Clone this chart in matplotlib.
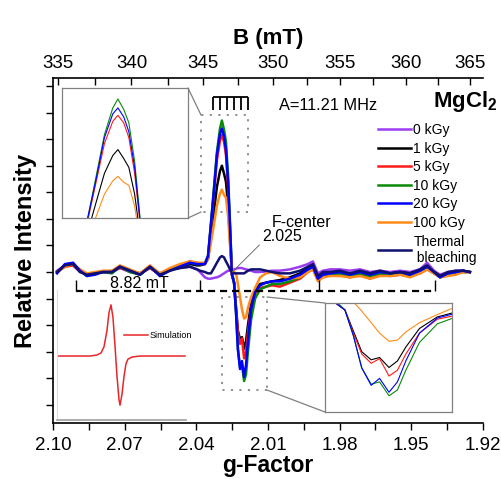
import numpy as np
import matplotlib
matplotlib.use("Agg")
import matplotlib.pyplot as plt
from matplotlib.patches import Rectangle, ConnectionPatch

plt.rcParams["font.family"] = ["Liberation Sans", "DejaVu Sans"]
plt.rcParams["mathtext.fontset"] = "custom"
plt.rcParams["mathtext.rm"] = "Liberation Sans"
plt.rcParams["mathtext.bf"] = "Liberation Sans:bold"

# ---- spectra (g-factor vs relative intensity) ----
g_factor = [
    2.0983, 2.0950, 2.0916, 2.0887, 2.0858, 2.0824, 2.0791, 2.0753, 2.0720, 2.0678,
    2.0636, 2.0594, 2.0553, 2.0511, 2.0469, 2.0427, 2.0397, 2.0385,
    2.0364, 2.0351, 2.0339, 2.0326, 2.0314, 2.0301, 2.0293, 2.0284, 2.0276, 2.0267,
    2.0259, 2.0251, 2.0242, 2.0234, 2.0226, 2.0217, 2.0209, 2.0200, 2.0192, 2.0184,
    2.0171, 2.0154, 2.0133, 2.0108, 2.0083,
    2.0050, 2.0008, 1.9966, 1.9933, 1.9912, 1.9891, 1.9870, 1.9840, 1.9799, 1.9757,
    1.9715, 1.9673, 1.9631, 1.9589, 1.9547, 1.9506, 1.9464, 1.9434, 1.9405, 1.9380,
    1.9347, 1.9313, 1.9284, 1.9255,
]

i_0kgy = [
    0.05, 0.25, 0.25, 0.00, -0.05, -0.05, 0.00, 0.05, 0.15, 0.00,
    -0.05, 0.15, -0.05, 0.10, 0.15, 0.20, 0.10, 0.00,
    -0.20, -0.25, -0.25, -0.22, -0.20, -0.15, -0.10, -0.05, 0.00, 0.05,
    0.05, 0.05, 0.10, 0.12, 0.15, 0.15, 0.15, 0.12, 0.10, 0.08,
    0.05, 0.00, 0.00, 0.02, 0.05,
    0.05, 0.10, 0.20, 0.30, 0.40, -0.05, 0.05, 0.10, 0.10, 0.05,
    0.10, 0.00, 0.05, 0.00, 0.05, 0.00, 0.10, 0.35, 0.05, -0.10,
    0.00, 0.05, 0.05, 0.00,
]
i_1kgy = [
    0.00, 0.25, 0.30, 0.05, -0.10, -0.05, 0.00, 0.00, 0.20, 0.05,
    -0.10, 0.20, -0.10, 0.10, 0.20, 0.30, 0.25, 0.25,
    0.30, 0.50, 1.30, 2.30, 3.20, 3.80, 4.00, 3.70, 3.40, 2.50,
    1.20, -0.10, -0.40, -1.30, -2.20, -2.55, -2.45, -2.88, -2.60, -2.00,
    -1.20, -0.70, -0.45, -0.40, -0.35,
    -0.30, -0.20, -0.05, 0.15, 0.25, -0.20, -0.05, 0.00, 0.00, -0.10,
    0.00, -0.05, 0.00, -0.05, 0.00, -0.05, 0.05, 0.20, 0.00, -0.15,
    -0.05, 0.00, 0.05, 0.00,
]
i_5kgy = [
    0.00, 0.20, 0.25, 0.05, -0.10, -0.05, 0.00, 0.00, 0.15, 0.05,
    -0.05, 0.15, -0.10, 0.10, 0.25, 0.40, 0.35, 0.30,
    0.30, 0.60, 1.70, 3.00, 4.20, 4.95, 5.15, 4.90, 4.40, 3.20,
    1.60, -0.10, -0.40, -1.40, -2.30, -2.70, -2.50, -3.25, -3.00, -2.30,
    -1.40, -0.80, -0.60, -0.55, -0.50,
    -0.55, -0.40, -0.25, 0.00, 0.10, -0.30, -0.20, -0.10, -0.10, -0.20,
    -0.10, -0.25, -0.10, -0.15, -0.10, -0.15, -0.05, 0.10, -0.05, -0.15,
    -0.10, -0.05, 0.00, 0.00,
]
i_10kgy = [
    0.00, 0.25, 0.30, 0.05, -0.15, -0.05, 0.00, -0.05, 0.20, 0.00,
    -0.10, 0.20, -0.10, 0.10, 0.20, 0.35, 0.30, 0.30,
    0.35, 0.60, 1.80, 3.20, 4.50, 5.40, 5.70, 5.35, 4.90, 3.60,
    1.80, 0.00, -0.40, -1.50, -2.90, -3.60, -3.50, -4.10, -3.85, -3.00,
    -1.80, -1.00, -0.65, -0.55, -0.45,
    -0.45, -0.35, -0.20, 0.05, 0.15, -0.30, -0.15, -0.10, -0.05, -0.15,
    -0.05, -0.15, -0.05, -0.10, -0.05, -0.15, 0.00, 0.15, -0.05, -0.20,
    -0.10, -0.05, 0.00, 0.00,
]
i_20kgy = [
    -0.05, 0.30, 0.35, 0.05, -0.15, -0.10, 0.00, 0.00, 0.20, 0.05,
    -0.10, 0.20, -0.15, 0.05, 0.20, 0.35, 0.30, 0.30,
    0.30, 0.60, 1.80, 3.10, 4.40, 5.20, 5.40, 5.10, 4.60, 3.40,
    1.70, -0.10, -0.40, -1.50, -2.90, -3.65, -3.35, -3.95, -3.50, -2.60,
    -1.40, -0.75, -0.50, -0.40, -0.35,
    -0.35, -0.25, -0.10, 0.10, 0.20, -0.25, -0.10, -0.05, 0.00, -0.10,
    0.00, -0.10, 0.00, -0.05, 0.00, -0.10, 0.05, 0.20, 0.00, -0.20,
    -0.05, 0.00, 0.05, 0.00,
]
i_100kgy = [
    0.00, 0.20, 0.30, 0.10, -0.05, 0.00, 0.05, 0.05, 0.25, 0.10,
    -0.05, 0.25, -0.05, 0.15, 0.30, 0.40, 0.35, 0.35,
    0.35, 0.50, 1.10, 1.80, 2.50, 2.95, 3.10, 2.90, 2.80, 2.10,
    1.00, 0.15, 0.00, -0.05, -0.45, -0.95, -1.40, -1.75, -1.70, -1.35,
    -0.95, -0.60, -0.20, -0.05, 0.00,
    -0.15, -0.25, -0.20, 0.00, 0.10, -0.35, -0.20, -0.15, -0.15, -0.20,
    -0.15, -0.25, -0.15, -0.15, -0.10, -0.20, -0.05, 0.10, -0.05, -0.20,
    -0.15, -0.10, 0.00, 0.00,
]
i_thermal = [
    0.00, 0.25, 0.30, 0.00, -0.10, -0.05, 0.00, 0.00, 0.20, 0.05,
    -0.10, 0.20, -0.10, 0.05, 0.15, 0.20, 0.10, 0.05,
    0.00, -0.05, -0.05, 0.15, 0.35, 0.55, 0.60, 0.55, 0.40, 0.25,
    0.10, 0.00, -0.05, -0.05, -0.05, -0.05, -0.05, -0.05, 0.00, 0.05,
    0.10, 0.10, 0.10, 0.05, 0.00,
    -0.05, -0.05, 0.05, 0.20, 0.30, -0.15, 0.00, 0.00, 0.05, -0.05,
    0.05, -0.05, 0.05, -0.05, 0.00, -0.05, 0.10, 0.25, 0.00, -0.15,
    0.00, 0.05, 0.05, 0.00,
]

labels = ["0 kGy", "1 kGy", "5 kGy", "10 kGy", "20 kGy", "100 kGy", "Thermal\n bleaching"]
colors = ["#9b3cf0", "#000000", "#ff1a1a", "#0a8a0a", "#0000ff", "#ff8c1a", "#101070"]
spectra = [i_0kgy, i_1kgy, i_5kgy, i_10kgy, i_20kgy, i_100kgy, i_thermal]

# simulated F-centre line (arbitrary field units / intensity)
sim_field = [0, 33, 40, 44, 47, 50, 52, 54, 56, 58, 60, 62, 63, 65, 67, 69, 71, 75, 83, 128]
sim_signal = [0, 0, 0.02, 0.06, 0.18, 0.5, 0.85, 1.0, 0.75, 0.2, -0.4, -0.85, -0.96,
              -0.75, -0.4, -0.15, -0.06, -0.02, 0, 0]

g_ticks = [2.10, 2.07, 2.04, 2.01, 1.98, 1.95, 1.92]
b_ticks = [335, 340, 345, 350, 355, 360, 365]
hfs_comb_g = [2.0330, 2.0301, 2.0272, 2.0242, 2.0213, 2.0184]   # hyperfine stick pattern
span_B = [336.2, 344.8, 353.4, 362.3]                          # 8.82 mT marker ticks
f_center_g = 2.025

FREQ_GHZ = 9.837
C_MT = 71.4477 * FREQ_GHZ   # B[mT] = h*nu / (muB * g)


def g_to_B(g):
    g = np.asarray(g, dtype=float)
    with np.errstate(divide="ignore"):
        return C_MT / g


W, H = 502, 479


def px_box(x0, y0, x1, y1):
    return [x0 / W, 1 - y1 / H, (x1 - x0) / W, (y1 - y0) / H]


fig = plt.figure(figsize=(W / 100, H / 100), dpi=100)
ax = fig.add_axes(px_box(53, 78, 483, 423))

order = [0, 1, 2, 3, 5, 4, 6]
for k in order:
    ax.plot(g_factor, spectra[k], color=colors[k], lw=1.8, label=labels[k],
            solid_joinstyle="round")

ax.set_xlim(2.10, 1.92)
ax.set_ylim(-5.68, 7.3)
ax.set_xticks(g_ticks)
ax.set_xticks([t - 0.015 for t in g_ticks[:-1]], minor=True)
ax.xaxis.set_major_formatter(matplotlib.ticker.FormatStrFormatter("%.2f"))
ax.set_yticks(range(-5, 8))
ax.set_yticklabels([])
ax.tick_params(axis="x", which="both", direction="out", length=5, width=1, labelsize=13.5, pad=5)
ax.tick_params(axis="y", direction="out", length=5, width=1)
ax.spines["right"].set_visible(False)
ax.spines["top"].set_visible(False)
for s in ("left", "bottom"):
    ax.spines[s].set_linewidth(1.2)
ax.set_xlabel("g-Factor", fontsize=16.5, fontweight="bold", labelpad=0)
ax.set_ylabel("Relative Intensity", fontsize=17, fontweight="bold", labelpad=3)

sec = ax.secondary_xaxis("top", functions=(g_to_B, g_to_B))
sec.set_xticks(b_ticks)
sec.set_xticks([b + 2.5 for b in b_ticks[:-1]], minor=True)
sec.tick_params(which="both", direction="in", length=5, width=1, labelsize=13.5, pad=4)
sec.spines["top"].set_linewidth(1.2)
sec.set_xlabel("B (mT)", fontsize=16, fontweight="bold", labelpad=8)

# hyperfine comb
comb_top, comb_bot = 6.58, 6.09
ax.hlines(comb_top, min(hfs_comb_g), max(hfs_comb_g), color="black", lw=1.3)
ax.vlines(hfs_comb_g, comb_bot, comb_top, color="black", lw=1.3)

# 8.82 mT span marker
span_g = g_to_B(span_B)
ax.plot([span_g[0], span_g[-1]], [-0.72, -0.72], color="black", lw=1.6, dashes=(3.2, 2.2))
ax.vlines(span_g, -0.72, -0.3, color="black", lw=1.0)
ax.text(2.064, -0.42, "8.82 mT", fontsize=11.5, ha="center", va="center")

# F-centre pointer
ax.annotate("2.025", xy=(f_center_g, 0.0), xytext=(2.0041, 1.35), fontsize=11.5,
            ha="center", va="center",
            arrowprops=dict(arrowstyle="-", color="#707070", lw=0.7,
                            relpos=(0.0, 0.1), shrinkA=0, shrinkB=0))
ax.text(1.9958, 1.88, "F-center", fontsize=11.5, ha="center", va="center")

fig.text(328 / W, 1 - 105 / H, "A=11.21 MHz", fontsize=11.8, ha="center", va="center")
fig.text(433 / W, 1 - 102 / H, r"MgCl$_\mathbf{2}$", fontsize=16, fontweight="bold",
         ha="left", va="center")

handles, labs = ax.get_legend_handles_labels()
idx = [labs.index(l) for l in labels]
ax.legend([handles[i] for i in idx], labels, loc="upper left",
          bbox_to_anchor=(378 / W, 1 - 123 / H), bbox_transform=fig.transFigure,
          frameon=False, fontsize=10, handlelength=2.4, handletextpad=0.15,
          labelspacing=0.33, borderpad=0, borderaxespad=0)

# zoom boxes on the main plot
box_style = dict(fill=False, edgecolor="#888888", lw=1.3, linestyle=(0, (1.2, 3.5)))
peak_box = (2.0184, 2.26, 0.0196, 3.64)
dip_box = (2.0104, -4.44, 0.0189, 3.50)
ax.add_patch(Rectangle(peak_box[:2], peak_box[2], peak_box[3], **box_style))
ax.add_patch(Rectangle(dip_box[:2], dip_box[2], dip_box[3], **box_style))


def style_inset(a):
    a.set_xticks([])
    a.set_yticks([])
    for s in a.spines.values():
        s.set_color("#808080")
        s.set_linewidth(0.9)


# inset: peak tops
ax_in1 = fig.add_axes(px_box(62, 88, 188, 218))
for k in [1, 2, 3, 4, 5]:
    ax_in1.plot(g_factor, spectra[k], color=colors[k], lw=0.8)
ax_in1.set_xlim(2.0380, 2.0184)
ax_in1.set_ylim(1.7, 6.07)
style_inset(ax_in1)

# inset: trough
ax_in2 = fig.add_axes(px_box(325, 303, 452, 412))
for k in [1, 2, 3, 4, 5]:
    ax_in2.plot(g_factor, spectra[k], color=colors[k], lw=0.8)
ax_in2.set_xlim(2.0261, 2.0140)
ax_in2.set_ylim(-4.8, -0.1)
style_inset(ax_in2)

con_style = dict(color="#808080", lw=0.9)
for xyA, xyB, axB in [
    ((2.0380, 5.90), (1, 1), ax_in1),
    ((2.0380, 2.26), (1, 0), ax_in1),
    ((2.0104, -0.94), (0, 1), ax_in2),
    ((2.0104, -4.44), (0, 0), ax_in2),
]:
    fig.add_artist(ConnectionPatch(xyA=xyA, coordsA=ax.transData, xyB=xyB,
                                   coordsB=axB.transAxes, **con_style))

# inset: simulation
ax_sim = fig.add_axes(px_box(57, 290, 186, 420))
ax_sim.patch.set_alpha(0)
ax_sim.plot(sim_field, sim_signal, color="#e8262a", lw=1.1, label="Simulation")
ax_sim.set_xlim(0, 129)
ax_sim.set_ylim(-1.25, 1.29)
ax_sim.set_xticks([])
ax_sim.set_yticks([])
ax_sim.spines["top"].set_visible(False)
ax_sim.spines["right"].set_visible(False)
ax_sim.spines["left"].set_color("#dddddd")
ax_sim.spines["bottom"].set_color("#a0a0a0")
ax_sim.spines["bottom"].set_linewidth(1.2)
ax_sim.legend(loc="center left", bbox_to_anchor=(0.52, 0.65), frameon=False, fontsize=6.5,
              handlelength=2.6, handletextpad=0.2, borderpad=0, borderaxespad=0)

fig.savefig("out.png", dpi=100)
